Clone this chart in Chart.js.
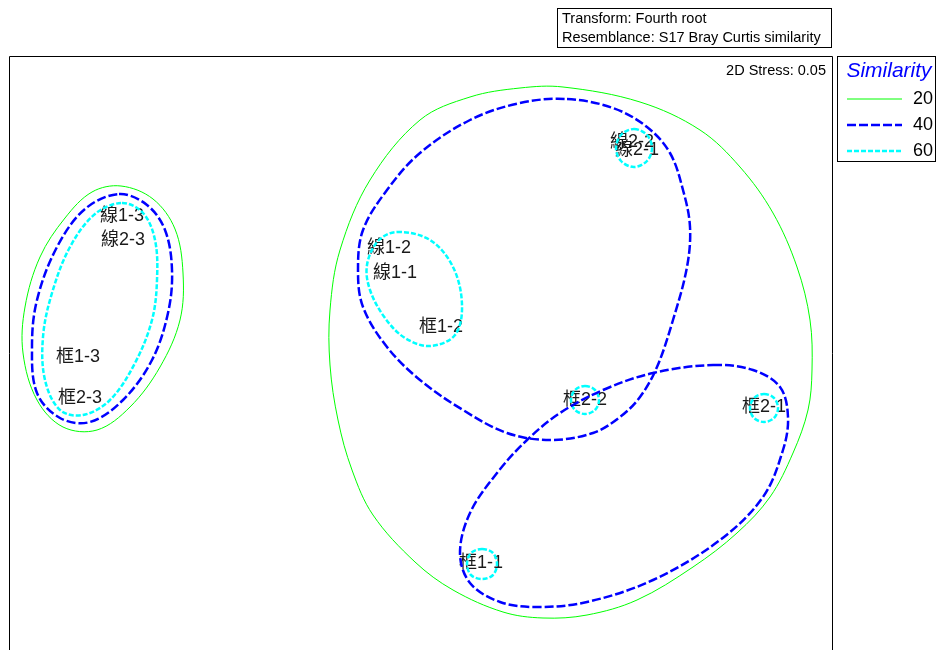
<!DOCTYPE html>
<html>
<head>
<meta charset="utf-8">
<script src="https://cdn.jsdelivr.net/npm/chart.js@4"></script>
<style>
  body { margin: 0; background: #fff; overflow: hidden; }
</style>
</head>
<body>
<canvas id="mds" width="940" height="650"></canvas>
<script>
// sample positions (2D nMDS)
const sampleNames = ['線1-3', '線2-3', '框1-3', '框2-3', '線1-2', '線1-1', '框1-2', '線2-2', '線2-1', '框2-2', '框2-1', '框1-1'];
const sampleX = [-2.99, -2.98, -3.43, -3.41, -0.32, -0.26, 0.20, 2.11, 2.16, 1.64, 3.43, 0.60];
const sampleY = [1.40, 1.16, -0.01, -0.42, 1.08, 0.83, 0.29, 2.14, 2.06, -0.44, -0.51, -2.07];

// similarity contours, traced as closed outlines
const sim20Left = [[-3.00, 1.70], [-2.68, 1.57], [-2.46, 1.27], [-2.38, 0.83], [-2.41, 0.36], [-2.61, -0.11], [-2.91, -0.51], [-3.24, -0.74], [-3.58, -0.71], [-3.84, -0.44], [-3.98, 0.03], [-3.96, 0.49], [-3.81, 0.99], [-3.56, 1.38], [-3.29, 1.64]];
const sim20Right = [[1.42, 2.69], [2.19, 2.54], [2.79, 2.26], [3.19, 1.89], [3.52, 1.43], [3.76, 0.89], [3.89, 0.36], [3.91, -0.14], [3.87, -0.54], [3.72, -0.97], [3.49, -1.41], [3.16, -1.77], [2.72, -2.11], [2.16, -2.44], [1.66, -2.59], [1.22, -2.62], [0.82, -2.56], [0.32, -2.34], [-0.06, -2.06], [-0.48, -1.59], [-0.69, -1.14], [-0.83, -0.64], [-0.91, -0.09], [-0.91, 0.46], [-0.81, 1.06], [-0.51, 1.76], [-0.01, 2.36], [0.49, 2.59], [0.99, 2.68]];
const sim40Left = [[-3.02, 1.62], [-2.74, 1.51], [-2.56, 1.26], [-2.49, 0.86], [-2.53, 0.43], [-2.69, -0.04], [-2.98, -0.44], [-3.31, -0.66], [-3.61, -0.62], [-3.84, -0.37], [-3.89, 0.09], [-3.84, 0.56], [-3.64, 1.09], [-3.36, 1.47]];
const sim40Upper = [[1.46, 2.57], [1.92, 2.48], [2.26, 2.29], [2.49, 2.03], [2.62, 1.66], [2.69, 1.29], [2.66, 0.89], [2.52, 0.36], [2.36, -0.11], [2.19, -0.41], [1.99, -0.61], [1.72, -0.77], [1.29, -0.84], [0.86, -0.77], [0.42, -0.54], [-0.01, -0.24], [-0.34, 0.09], [-0.58, 0.49], [-0.63, 0.86], [-0.58, 1.26], [-0.34, 1.66], [-0.01, 2.03], [0.49, 2.36], [0.99, 2.53]];
const sim40Lower = [[2.92, -0.09], [3.32, -0.14], [3.59, -0.31], [3.67, -0.61], [3.62, -0.94], [3.42, -1.41], [2.99, -1.84], [2.32, -2.24], [1.66, -2.46], [1.16, -2.51], [0.79, -2.46], [0.49, -2.27], [0.39, -1.97], [0.49, -1.57], [0.76, -1.17], [1.06, -0.84], [1.39, -0.57], [1.82, -0.34], [2.32, -0.17]];
const sim60Left = [[-2.99, 1.53], [-2.78, 1.43], [-2.66, 1.16], [-2.64, 0.76], [-2.69, 0.36], [-2.86, -0.07], [-3.11, -0.44], [-3.38, -0.59], [-3.61, -0.54], [-3.76, -0.24], [-3.78, 0.19], [-3.69, 0.63], [-3.51, 1.09], [-3.26, 1.42]];
const sim60Line1 = [[-0.24, 1.24], [0.09, 1.16], [0.32, 0.89], [0.41, 0.51], [0.34, 0.21], [0.09, 0.10], [-0.16, 0.18], [-0.36, 0.38], [-0.51, 0.66], [-0.54, 0.91], [-0.43, 1.15]];
const sim60Line2 = [[2.13, 2.27], [2.26, 2.21], [2.31, 2.08], [2.26, 1.95], [2.13, 1.89], [2.00, 1.95], [1.95, 2.08], [2.00, 2.21]];
const sim60Box22 = [[1.64, -0.30], [1.74, -0.34], [1.78, -0.44], [1.74, -0.54], [1.64, -0.58], [1.54, -0.54], [1.50, -0.44], [1.54, -0.34]];
const sim60Box21 = [[3.43, -0.38], [3.53, -0.42], [3.57, -0.52], [3.53, -0.62], [3.43, -0.66], [3.33, -0.62], [3.29, -0.52], [3.33, -0.42]];
const sim60Box11 = [[0.61, -1.93], [0.72, -1.97], [0.76, -2.08], [0.72, -2.19], [0.61, -2.23], [0.50, -2.19], [0.46, -2.08], [0.50, -1.97]];

const simLevels = ['20', '40', '60'];
const simColors = ['#00ff00', '#0000ff', '#00ffff'];
const simWidths = [1, 2.5, 2.5];
const simDash = [[], [9, 3], [5, 2]];

const stressText = '2D Stress: 0.05';
const infoLines = ['Transform: Fourth root', 'Resemblance: S17 Bray Curtis similarity'];

function contour(points, level) {
  return {
    data: points.map(p => ({ x: p[0], y: p[1] })),
    showLine: true,
    closed: true,
    pointRadius: 0,
    pointHoverRadius: 0,
    borderColor: simColors[level],
    borderWidth: simWidths[level],
    borderDash: simDash[level],
    tension: 0.35,
    fill: false
  };
}

const datasets = [
  {
    data: sampleX.map((x, i) => ({ x: x, y: sampleY[i] })),
    pointRadius: 0,
    showLine: false
  },
  contour(sim20Left, 0), contour(sim20Right, 0),
  contour(sim40Left, 1), contour(sim40Upper, 1), contour(sim40Lower, 1),
  contour(sim60Left, 2), contour(sim60Line1, 2), contour(sim60Line2, 2),
  contour(sim60Box22, 2), contour(sim60Box21, 2), contour(sim60Box11, 2)
];

// make the outline datasets closed smooth loops
const closeLoops = {
  id: 'closeLoops',
  afterDatasetUpdate(chart, args) {
    const meta = chart.getDatasetMeta(args.index);
    if (meta.dataset && chart.data.datasets[args.index].closed) {
      meta.dataset._loop = true;
      meta.dataset._fullLoop = true;
    }
  }
};

const sampleLabels = {
  id: 'sampleLabels',
  beforeDatasetsDraw(chart) {
    const ctx = chart.ctx;
    const meta = chart.getDatasetMeta(0);
    ctx.save();
    ctx.font = '18px "Liberation Sans", "Noto Sans CJK TC", sans-serif';
    ctx.fillStyle = '#1a1a1a';
    ctx.textAlign = 'center';
    ctx.textBaseline = 'middle';
    meta.data.forEach((pt, i) => ctx.fillText(sampleNames[i], pt.x, pt.y));
    ctx.restore();
  }
};

const decorations = {
  id: 'decorations',
  afterDraw(chart) {
    const ctx = chart.ctx;
    const a = chart.chartArea;
    ctx.save();
    // plot frame (bottom runs off the page)
    ctx.strokeStyle = '#000';
    ctx.lineWidth = 1;
    ctx.beginPath();
    ctx.moveTo(a.left + 0.5, a.bottom + 10);
    ctx.lineTo(a.left + 0.5, a.top + 0.5);
    ctx.lineTo(a.right - 0.5, a.top + 0.5);
    ctx.lineTo(a.right - 0.5, a.bottom + 10);
    ctx.stroke();

    ctx.font = '14.5px "Liberation Sans", Arial, sans-serif';
    ctx.fillStyle = '#000';
    ctx.textBaseline = 'middle';
    ctx.textAlign = 'right';
    ctx.fillText(stressText, a.right - 7, a.top + 15);

    // info box
    ctx.strokeRect(557.5, 8.5, 274, 39);
    ctx.textAlign = 'left';
    ctx.fillText(infoLines[0], 562, 19);
    ctx.fillText(infoLines[1], 562, 38);

    // legend box
    ctx.strokeRect(837.5, 56.5, 98, 105);
    ctx.font = 'italic 21px "Liberation Sans", Arial, sans-serif';
    ctx.fillStyle = '#0000ff';
    ctx.textAlign = 'center';
    ctx.fillText('Similarity', 889, 71);
    ctx.font = '18px "Liberation Sans", Arial, sans-serif';
    ctx.fillStyle = '#000';
    ctx.textAlign = 'right';
    simLevels.forEach((lv, i) => {
      const y = 99 + i * 26;
      ctx.strokeStyle = simColors[i];
      ctx.lineWidth = simWidths[i];
      ctx.setLineDash(simDash[i]);
      ctx.beginPath();
      ctx.moveTo(847, y);
      ctx.lineTo(902, y);
      ctx.stroke();
      ctx.setLineDash([]);
      ctx.fillText(lv, 933, y);
    });
    ctx.restore();
  }
};

new Chart(document.getElementById('mds'), {
  type: 'scatter',
  data: { datasets: datasets },
  options: {
    responsive: false,
    animation: false,
    events: [],
    layout: { padding: { left: 9, top: 56, right: 107, bottom: 0 } },
    plugins: { legend: { display: false }, tooltip: { enabled: false } },
    scales: {
      x: { type: 'linear', min: -4.12, max: 4.12, display: false },
      y: { type: 'linear', min: -2.94, max: 3.0, display: false }
    }
  },
  plugins: [closeLoops, sampleLabels, decorations]
});
</script>
</body>
</html>
